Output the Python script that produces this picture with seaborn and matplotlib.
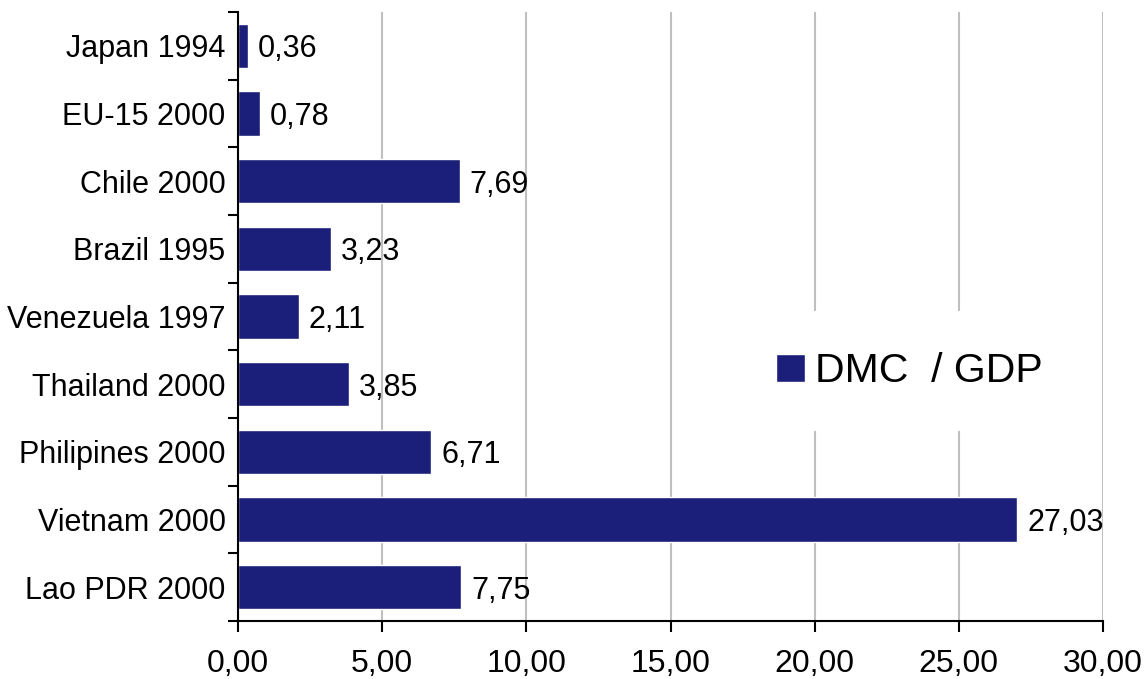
import matplotlib
matplotlib.use("Agg")
import matplotlib.pyplot as plt
import seaborn as sns
import pandas as pd
from matplotlib.ticker import FixedLocator, FuncFormatter

categories = ["Japan 1994", "EU-15 2000", "Chile 2000", "Brazil 1995", "Venezuela 1997",
              "Thailand 2000", "Philipines 2000", "Vietnam 2000", "Lao PDR 2000"]
values = [0.36, 0.78, 7.69, 3.23, 2.11, 3.85, 6.71, 27.03, 7.75]
series_name = "DMC  / GDP"
x_ticks = [0, 5, 10, 15, 20, 25, 30]

sns.set_theme(style="white")
plt.rcParams['font.family'] = ['Liberation Sans', 'DejaVu Sans']
plt.rcParams['text.color'] = 'black'
plt.rcParams['xtick.color'] = 'black'
plt.rcParams['ytick.color'] = 'black'

df = pd.DataFrame({"cat": categories, "val": values})
fig = plt.figure(figsize=(11.47, 6.79), dpi=100)
ax = fig.add_axes([238/1147, 1-621/679, (1103-238)/1147, (621-12)/679])

bar_color = "#1C1F7A"
sns.barplot(data=df, x="val", y="cat", color=bar_color, saturation=1, width=0.66,
            label=series_name, ax=ax, zorder=3)

for cont in ax.containers:
    texts = ax.bar_label(cont, labels=[f"{v:.2f}".replace(".", ",") for v in values],
                         padding=7, fontsize=22, color="black")
    for t in texts:
        t.xyann = (7, -2.5)

ax.set_xlim(0, 30)
ax.set_ylim(len(categories) - 0.5, -0.5)
ax.set_xticks(x_ticks)
ax.xaxis.set_major_formatter(FuncFormatter(lambda v, p: f"{v:.2f}".replace(".", ",")))
ax.tick_params(axis="x", labelsize=23, length=8, width=1.5, colors="black", pad=12, direction="out", bottom=True)
ax.set_yticks(range(len(categories)))
ax.set_yticklabels(categories)
ax.tick_params(axis="y", which="major", length=0, labelsize=22, pad=9, colors="black")
ax.yaxis.set_minor_locator(FixedLocator([i - 0.5 for i in range(len(categories) + 1)]))
ax.tick_params(axis="y", which="minor", length=7, width=1.5, color="black", left=True, direction="out")

ax.xaxis.grid(True, color="#C0C0C0", linewidth=1.5, zorder=0)
ax.yaxis.grid(False)
ax.set_axisbelow(True)
for s in ["top", "right"]:
    ax.spines[s].set_visible(False)
for s in ["left", "bottom"]:
    ax.spines[s].set_color("black")
    ax.spines[s].set_linewidth(1.5)
    ax.spines[s].set_zorder(5)
ax.set_xlabel("")
ax.set_ylabel("")

leg = ax.legend(loc="center left", bbox_to_anchor=(0.551, 0.41), fontsize=29.5, frameon=True,
                framealpha=1, edgecolor="white", facecolor="white", fancybox=False,
                handlelength=0.7, handleheight=0.7, handletextpad=0.25,
                borderpad=1.0)
leg.get_frame().set_linewidth(0)
leg.set_zorder(10)
for t in leg.get_texts():
    t.set_color("black")

fig.savefig("out.png", dpi=100)
